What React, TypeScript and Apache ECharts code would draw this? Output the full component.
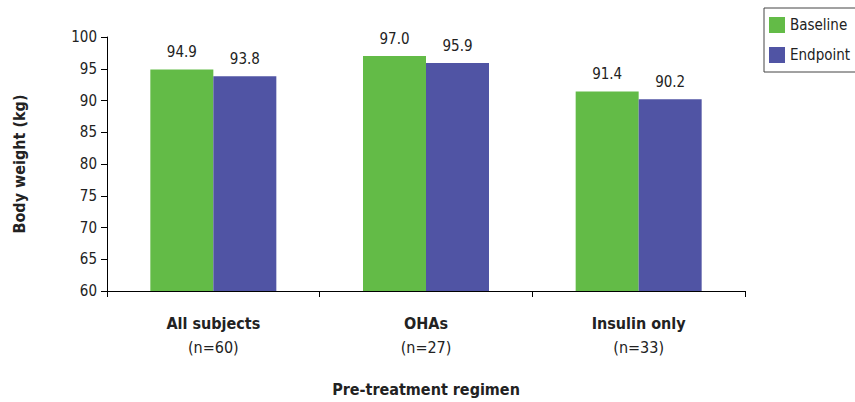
import React, { useEffect, useRef } from "react";
import * as echarts from "echarts";

const categories = ["All subjects", "OHAs", "Insulin only"];
const counts = ["(n=60)", "(n=27)", "(n=33)"];
const baseline = [94.9, 97.0, 91.4];
const endpoint = [93.8, 95.9, 90.2];
const seriesNames = ["Baseline", "Endpoint"];

const FONT = "'Liberation Sans Narrow', 'DejaVu Sans Condensed', 'Liberation Sans', sans-serif";

export default function App() {
  const ref = useRef<HTMLDivElement>(null);
  useEffect(() => {
    if (!ref.current) return;
    const chart = echarts.init(ref.current, null, { renderer: "svg" });
    const labelCfg = {
      show: true,
      position: "top" as const,
      distance: 10,
      color: "#222",
      fontSize: 15,
      fontFamily: FONT,
      formatter: (p: any) => Number(p.value).toFixed(1),
    };
    chart.setOption({
      animation: false,
      textStyle: { fontFamily: FONT },
      grid: { left: 107, right: 110, top: 37, bottom: 109, containLabel: false },
      legend: {
        data: seriesNames,
        orient: "vertical",
        left: 764,
        top: 8,
        padding: [9, 12, 9, 5],
        itemGap: 14,
        itemWidth: 16,
        itemHeight: 16,
        borderColor: "#444",
        borderWidth: 1,
        textStyle: { fontSize: 15, color: "#222", fontFamily: FONT },
        icon: "rect",
      },
      xAxis: {
        type: "category",
        data: categories,
        name: "Pre-treatment regimen",
        nameLocation: "middle",
        nameGap: 90,
        nameTextStyle: { fontSize: 16, fontWeight: "bold", color: "#222", fontFamily: FONT },
        axisLine: { lineStyle: { color: "#000", width: 1 } },
        axisTick: { show: true, length: 6, lineStyle: { color: "#000" } },
        axisLabel: {
          margin: 20,
          interval: 0,
          formatter: (v: string) => {
            const i = categories.indexOf(v);
            return `{b|${v}}\n{n|${counts[i]}}`;
          },
          rich: {
            b: { fontSize: 16, fontWeight: "bold", color: "#222", fontFamily: FONT, lineHeight: 24 },
            n: { fontSize: 16, color: "#222", fontFamily: FONT, lineHeight: 24 },
          },
        },
      },
      yAxis: {
        type: "value",
        min: 60,
        max: 100,
        interval: 5,
        name: "Body weight (kg)",
        nameLocation: "middle",
        nameGap: 80,
        nameTextStyle: { fontSize: 16, fontWeight: "bold", color: "#222", fontFamily: FONT },
        axisLine: { show: true, lineStyle: { color: "#000", width: 1 } },
        axisTick: { show: true, length: 6, lineStyle: { color: "#000" } },
        axisLabel: { fontSize: 15, color: "#222", margin: 10, fontFamily: FONT },
        splitLine: { show: false },
      },
      series: [
        {
          name: seriesNames[0],
          type: "bar",
          data: baseline,
          barWidth: 63,
          barGap: "0%",
          itemStyle: { color: "#63bb47" },
          label: labelCfg,
        },
        {
          name: seriesNames[1],
          type: "bar",
          data: endpoint,
          barWidth: 63,
          itemStyle: { color: "#5054a4" },
          label: labelCfg,
        },
      ],
    });
    return () => chart.dispose();
  }, []);
  return <div ref={ref} style={{ width: 855, height: 402, position: "absolute", left: 0, top: 0, background: "#fff" }} />;
}
